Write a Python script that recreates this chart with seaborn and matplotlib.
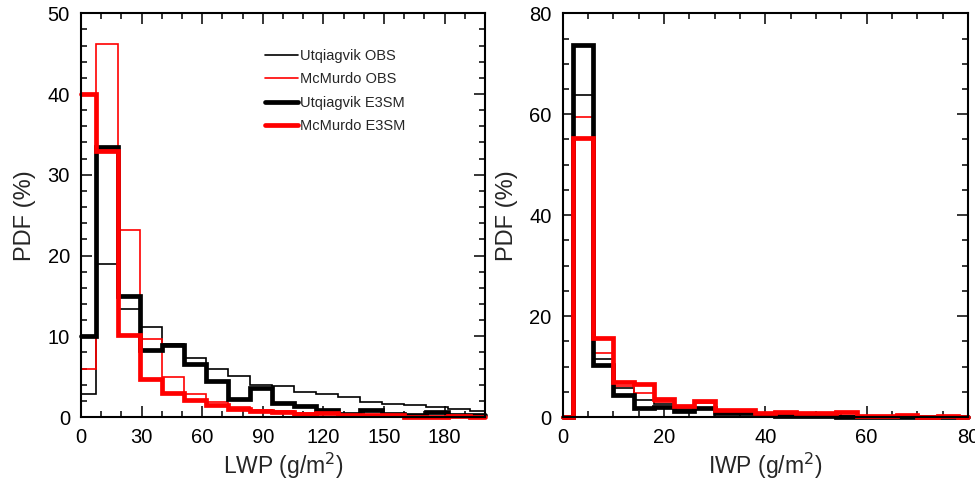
import matplotlib
matplotlib.use("Agg")
import matplotlib.pyplot as plt
import seaborn as sns
import numpy as np
import pandas as pd
from matplotlib.ticker import MultipleLocator

# ---------------- data ----------------
series_names = ["Utqiagvik OBS", "McMurdo OBS", "Utqiagvik E3SM", "McMurdo E3SM"]

lwp_edges = [0, 7.4, 18.3, 29.2, 40.1, 51.0, 61.9, 72.8, 83.7, 94.6, 105.5,
             116.4, 127.3, 138.2, 149.1, 160.0, 170.9, 181.8, 192.7, 200]
lwp_utq_obs = [2.9, 18.9, 13.4, 11.2, 9.0, 7.3, 5.9, 5.1, 4.0, 3.9, 3.1, 2.8,
               2.5, 1.9, 1.65, 1.55, 1.25, 1.0, 0.8]
lwp_mcm_obs = [6.0, 46.2, 23.1, 9.7, 5.0, 2.9, 1.9, 1.3, 0.9, 0.7, 0.5, 0.45,
               0.3, 0.3, 0.2, 0.1, 0.05, 0.15, 0.05]
lwp_utq_e3sm = [10.0, 33.5, 15.0, 8.3, 8.9, 6.6, 4.4, 2.2, 3.6, 1.7, 1.4, 0.85,
                0.4, 0.9, 0.35, 0.3, 0.6, 0.3, 0.2]
lwp_mcm_e3sm = [40.0, 33.0, 10.2, 4.75, 3.0, 2.1, 1.5, 1.0, 0.8, 0.6, 0.4, 0.45,
                0.2, 0.3, 0.2, 0.05, 0.05, 0.15, 0.05]

iwp_edges = [0, 2, 6, 10, 14, 18, 22, 26, 30, 34, 38, 42, 46, 50, 54, 58, 62,
             66, 70, 74, 78, 80]
iwp_utq_obs = [0, 63.9, 11.4, 5.8, 3.3, 2.5, 1.6, 1.8, 1.0, 0.8, 0.6, 0.4, 0.35,
               0.3, 0.2, 0.15, 0.15, 0.1, 0.1, 0.05, 0.05]
iwp_mcm_obs = [0, 59.4, 12.6, 6.2, 4.8, 3.0, 2.0, 2.8, 1.3, 1.2, 0.8, 0.9, 0.6,
               0.6, 0.7, 0.3, 0.3, 0.3, 0.1, 0.1, 0.05]
iwp_utq_e3sm = [0, 73.7, 10.4, 4.4, 1.7, 2.0, 1.1, 1.7, 0.8, 0.7, 0.5, 0.2, 0.3,
                0.3, 0.05, 0.1, 0.1, 0.05, 0.05, 0.05, 0.05]
iwp_mcm_e3sm = [0, 55.3, 15.6, 7.0, 6.5, 3.5, 2.1, 3.1, 1.3, 1.4, 0.8, 1.0, 0.7,
                0.7, 0.9, 0.3, 0.3, 0.35, 0.0, 0.15, 0.05]

lwp_xticks = [0, 30, 60, 90, 120, 150, 180]
lwp_yticks = [0, 10, 20, 30, 40, 50]
iwp_xticks = [0, 20, 40, 60, 80]
iwp_yticks = [0, 20, 40, 60, 80]

# ---------------- style ----------------
sns.set_theme(style="white")
plt.rcParams["font.family"] = ["Liberation Sans Narrow", "Liberation Sans", "DejaVu Sans"]

colors = ["black", "red", "black", "red"]
widths = [1.2, 1.2, 3.4, 3.4]


def step_frame(edges, values, name):
    return pd.DataFrame({"x": edges, "y": list(values) + [values[-1]], "series": name})


fig = plt.figure(figsize=(9.75, 4.87), dpi=100)
ax1 = fig.add_axes([0.0831, 0.1437, 0.4143, 0.8290])
ax2 = fig.add_axes([0.5771, 0.1437, 0.4157, 0.8290])

panels = [
    (ax1, lwp_edges, [lwp_utq_obs, lwp_mcm_obs, lwp_utq_e3sm, lwp_mcm_e3sm]),
    (ax2, iwp_edges, [iwp_utq_obs, iwp_mcm_obs, iwp_utq_e3sm, iwp_mcm_e3sm]),
]

for ax, edges, vals in panels:
    for name, v, c, lw in zip(series_names, vals, colors, widths):
        df = step_frame(edges, v, name)
        sns.lineplot(data=df, x="x", y="y", ax=ax, color=c, linewidth=lw,
                     drawstyle="steps-post", estimator=None, sort=False,
                     label=name, clip_on=False, solid_joinstyle="miter")

# axes formatting
ax1.set_xlim(0, 200)
ax1.set_ylim(0, 50)
ax1.set_xticks(lwp_xticks)
ax1.set_yticks(lwp_yticks)
ax1.xaxis.set_minor_locator(MultipleLocator(10))
ax1.yaxis.set_minor_locator(MultipleLocator(2))

ax2.set_xlim(0, 80)
ax2.set_ylim(0, 80)
ax2.set_xticks(iwp_xticks)
ax2.set_yticks(iwp_yticks)
ax2.xaxis.set_minor_locator(MultipleLocator(5))
ax2.yaxis.set_minor_locator(MultipleLocator(5))

for ax in (ax1, ax2):
    for s in ax.spines.values():
        s.set_visible(True)
        s.set_color("black")
        s.set_linewidth(1.5)
    ax.tick_params(which="both", direction="in", top=True, right=True,
                   bottom=True, left=True, colors="black", width=1.1)
    ax.tick_params(which="major", length=8, labelsize=14.5, pad=8)
    ax.tick_params(which="minor", length=4)
    ax.set_ylabel("PDF (%)", fontsize=17, labelpad=8)
    ax.grid(False)

ax1.set_xlabel("LWP (g/m$^2$)", fontsize=16.5, labelpad=3)
ax2.set_xlabel("IWP (g/m$^2$)", fontsize=16.5, labelpad=3)

ax2.get_legend().remove()
leg = ax1.legend(loc="upper left", bbox_to_anchor=(0.455, 0.912), frameon=False,
                 prop={"family": ["Liberation Sans", "DejaVu Sans"], "size": 10.5},
                 handlelength=2.3, handletextpad=0.1, labelspacing=0.65,
                 borderpad=0, borderaxespad=0)

fig.savefig("out.png", dpi=100)
